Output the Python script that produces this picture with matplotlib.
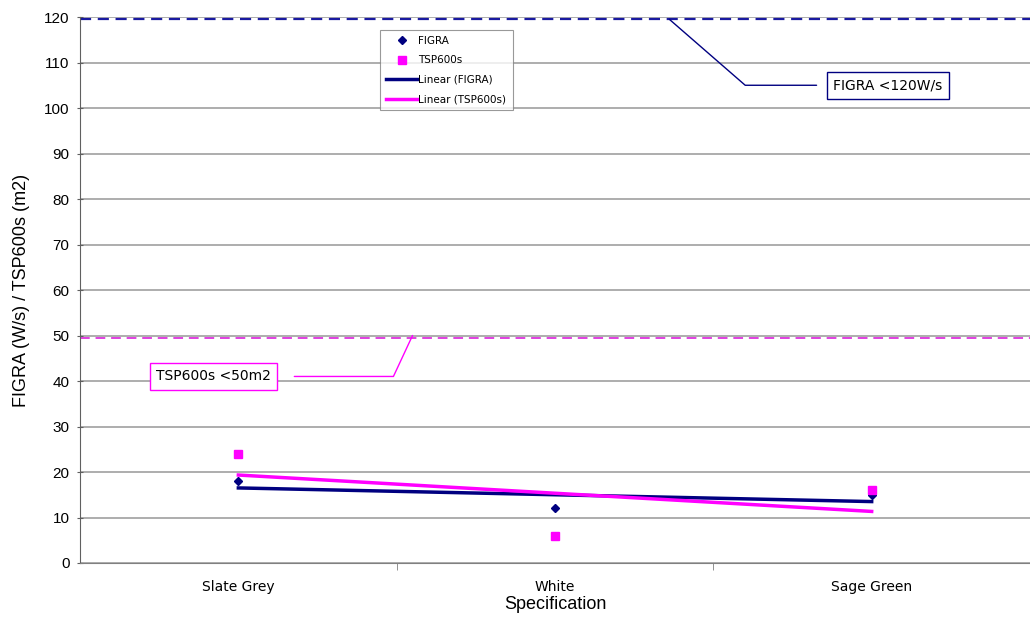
import numpy as np
import matplotlib
matplotlib.use('Agg')
import matplotlib.pyplot as plt

plt.rcParams['font.family'] = ['Liberation Sans', 'DejaVu Sans']

# data
specs = ['Slate Grey', 'White', 'Sage Green']
figra = [18, 12, 15]
tsp600 = [24, 6, 16]
figra_limit = 119.5
tsp_limit = 49.5

navy = '#000080'
pink = '#ff00ff'

fig = plt.figure(figsize=(10.3, 6.21), dpi=100)
ax = fig.add_axes([0.0777, 0.0934, 0.9223, 0.8792])

x = np.arange(len(specs))

# grid lines
ax.set_ylim(0, 120)
ax.set_xlim(-0.5, 2.5)
ax.set_yticks(range(0, 121, 10))
ax.yaxis.grid(True, color='#a0a0a0', linewidth=1.2)
ax.set_axisbelow(True)

# limit lines
ax.axhline(figra_limit, color='#1a1aa0', linestyle=(0, (5, 3)), linewidth=1.6)
ax.axhline(tsp_limit, color='#e040e0', linestyle=(0, (5, 3)), linewidth=1.4)

# trend lines
pf = np.polyfit(x, figra, 1)
pt = np.polyfit(x, tsp600, 1)
ax.plot(x[[0, -1]], np.polyval(pf, x[[0, -1]]), color=navy, linewidth=2.5,
        label='Linear (FIGRA)', zorder=3)
ax.plot(x[[0, -1]], np.polyval(pt, x[[0, -1]]), color=pink, linewidth=2.5,
        label='Linear (TSP600s)', zorder=3)

# points
ax.plot(x, figra, linestyle='none', marker='D', markersize=4.5,
        color=navy, label='FIGRA', zorder=4)
ax.plot(x, tsp600, linestyle='none', marker='s', markersize=6,
        color=pink, label='TSP600s', zorder=4)

handles, labels = ax.get_legend_handles_labels()
order = [2, 3, 0, 1]
leg = ax.legend([handles[i] for i in order], [labels[i] for i in order],
                loc='upper left', bbox_to_anchor=(0.31, 0.986),
                prop={'family': 'DejaVu Sans', 'size': 7.5},
                frameon=True, fancybox=False, edgecolor='#808080',
                handlelength=3, handletextpad=0.1, borderpad=0.6,
                labelspacing=0.9)
leg.get_frame().set_linewidth(0.8)

# annotations
ax.annotate('FIGRA <120W/s', xy=(1.361, figra_limit), xytext=(1.878, 105),
            fontsize=10, family='DejaVu Sans', va='center', ha='left',
            bbox=dict(boxstyle='square,pad=0.45', fc='white', ec=navy, lw=1),
            arrowprops=dict(arrowstyle='-', color=navy, lw=1,
                            connectionstyle='angle,angleA=0,angleB=-41,rad=0',
                            shrinkA=7, shrinkB=0))
ax.annotate('TSP600s <50m2', xy=(0.55, 50), xytext=(-0.26, 41),
            fontsize=10, family='DejaVu Sans', va='center', ha='left',
            bbox=dict(boxstyle='square,pad=0.45', fc='white', ec=pink, lw=1),
            arrowprops=dict(arrowstyle='-', color=pink, lw=1,
                            connectionstyle='angle,angleA=0,angleB=65,rad=0',
                            shrinkA=12, shrinkB=0))

# axes styling
ax.set_xticks(x)
ax.set_xticklabels(specs, family='DejaVu Sans', fontsize=10)
ax.set_xticks([0.5, 1.5], minor=True)
ax.tick_params(axis='x', which='major', length=0, pad=12)
ax.tick_params(axis='x', which='minor', length=5, color='#808080')
ax.tick_params(axis='y', length=5, direction='inout', color='#606060',
               labelsize=11, pad=5)
for s in ['top', 'right']:
    ax.spines[s].set_visible(False)
ax.spines['left'].set_color('#606060')
ax.spines['bottom'].set_color('#808080')

ax.set_xlabel('Specification', fontsize=13, labelpad=2)
ax.set_ylabel('FIGRA (W/s) / TSP600s (m2)', fontsize=13, labelpad=10)

fig.savefig('out.png', dpi=100)
